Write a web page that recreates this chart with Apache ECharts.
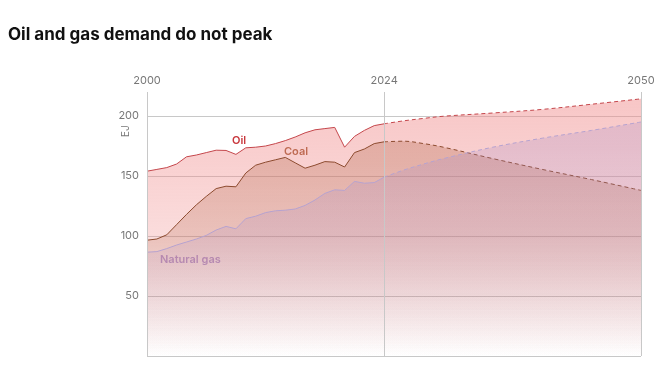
<!DOCTYPE html>
<html>
<head>
<meta charset="utf-8">
<title>Oil and gas demand do not peak</title>
<script src="https://cdn.jsdelivr.net/npm/echarts@6/dist/echarts.min.js"></script>
<style>
html, body { margin: 0; padding: 0; background: #fff; }
#chart { width: 660px; height: 377px; }
</style>
</head>
<body>
<div id="chart"></div>
<script>
// history, EJ per year
const histYears = [2000, 2001, 2002, 2003, 2004, 2005, 2006, 2007, 2008, 2009, 2010, 2011, 2012,
  2013, 2014, 2015, 2016, 2017, 2018, 2019, 2020, 2021, 2022, 2023, 2024]
const oilHist = [154, 155.5, 157, 160, 166, 167.5, 169.5, 171.5, 171.3, 168, 173.5, 174, 175,
  177, 179.5, 182.5, 186, 188.5, 189.5, 190.5, 174, 183, 188, 192, 193.5]
const coalHist = [96.5, 97.5, 101, 109.5, 118, 126, 133, 139.5, 141.5, 141, 152.5, 159, 161.5,
  163.5, 165.5, 161, 156.5, 159, 162, 161.5, 157.5, 169.5, 172.5, 177, 178.5]
const gasHist = [86.5, 87, 89.5, 92.5, 95, 97.5, 100.5, 105, 108, 106, 114.5, 116.5, 119.5,
  121, 121.5, 122.5, 125.5, 130, 135.5, 138.5, 138, 145.5, 144, 144.5, 149]

// outlook (dashed)
const projYears = [2024, 2026, 2028, 2030, 2035, 2040, 2045, 2050]
const oilProj = [193.5, 196, 198, 199.8, 202.5, 205.5, 209.8, 214.3]
const coalProj = [178.5, 179, 177, 174, 164.5, 155.5, 147, 138]
const gasProj = [149, 155, 160, 164.5, 174, 181.5, 188, 195]

const yearMarks = [2000, 2024, 2050]
const yTicks = [50, 100, 150, 200]

const chart = echarts.init(document.getElementById('chart'))

// 渐变填充，底部淡出到白色
function fade (r, g, b, a) {
  return {
    type: 'linear', x: 0, y: 92, x2: 0, y2: 356, global: true,
    colorStops: [
      { offset: 0, color: `rgba(${r},${g},${b},${a})` },
      { offset: 0.55, color: `rgba(${r},${g},${b},${a * 0.6})` },
      { offset: 1, color: `rgba(${r},${g},${b},0)` }
    ]
  }
}

const fuels = [
  { name: 'Oil', line: '#c4464b', fill: fade(240, 140, 140, 0.5), hist: oilHist, proj: oilProj },
  { name: 'Coal', line: '#8c4a2e', fill: fade(175, 95, 65, 0.35), hist: coalHist, proj: coalProj },
  { name: 'Natural gas', line: '#b6a2cf', fill: fade(165, 135, 195, 0.28), hist: gasHist, proj: gasProj }
]

const series = []
fuels.forEach((f, i) => {
  series.push({
    name: f.name,
    type: 'line',
    symbol: 'none',
    data: histYears.map((y, k) => [y, f.hist[k]]),
    lineStyle: { color: f.line, width: 1 },
    areaStyle: { color: f.fill, opacity: 1 },
    z: 2 + i,
    markLine: i === 0 ? {
      silent: true,
      symbol: 'none',
      label: { show: false },
      lineStyle: { color: '#c8c8c8', type: 'solid', width: 1 },
      data: yearMarks.map(y => ({ xAxis: y }))
    } : undefined
  })
  series.push({
    name: f.name + ' outlook',
    type: 'line',
    symbol: 'none',
    smooth: 0.35,
    data: projYears.map((y, k) => [y, f.proj[k]]),
    lineStyle: { color: f.line, width: 1, type: [4, 3] },
    areaStyle: { color: f.fill, opacity: 1 },
    z: 2 + i
  })
})

const option = {
  animation: false,
  textStyle: { fontFamily: 'Inter, "Noto Sans", sans-serif' },
  title: {
    text: 'Oil and gas demand do not peak',
    left: 3,
    top: 21,
    textStyle: { fontSize: 17, fontWeight: 700, color: '#111' }
  },
  grid: { left: 147, right: 19, top: 92, bottom: 21 },
  xAxis: {
    type: 'value',
    position: 'top',
    min: 2000,
    max: 2050,
    axisLine: { show: false },
    axisTick: { show: false },
    splitLine: { show: false },
    axisLabel: {
      customValues: yearMarks,
      color: '#777',
      fontSize: 11,
      margin: 6,
      formatter: v => String(v)
    }
  },
  yAxis: {
    type: 'value',
    min: 0,
    max: 220,
    interval: 50,
    axisLine: { show: false },
    axisTick: { show: false },
    splitLine: { show: true, showMaxLine: false, lineStyle: { color: '#c8c8c8', width: 1 } },
    axisLabel: {
      customValues: yTicks,
      color: '#777',
      fontSize: 11,
      margin: 8
    }
  },
  graphic: [
    { type: 'text', x: 121, y: 137, rotation: Math.PI / 2, style: { text: 'EJ', fill: '#777', font: '10px Inter' } },
    { type: 'text', x: 232, y: 135, style: { text: 'Oil', fill: '#c8373c', font: '600 11px Inter' } },
    { type: 'text', x: 284, y: 146, style: { text: 'Coal', fill: '#9a5228', font: '600 11px Inter' } },
    { type: 'text', x: 160, y: 254, style: { text: 'Natural gas', fill: '#a994d6', font: '600 11px Inter' } }
  ],
  series: series
}

chart.setOption(option)
</script>
</body>
</html>
